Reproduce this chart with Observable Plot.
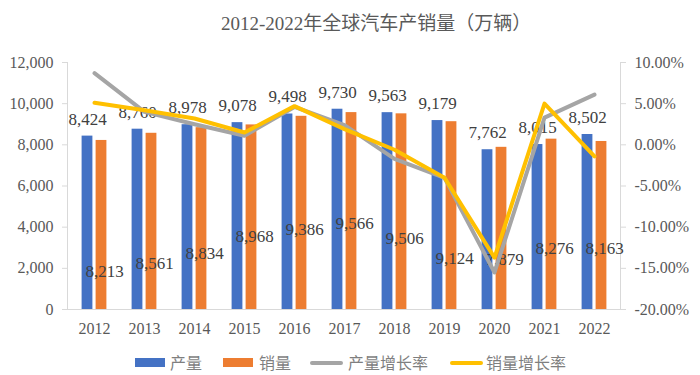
<!DOCTYPE html>
<html>
<head>
<meta charset="utf-8">
<script src="https://cdn.jsdelivr.net/npm/d3@7"></script>
<script src="https://cdn.jsdelivr.net/npm/@observablehq/plot@0.6"></script>
<style>
  html, body { margin: 0; padding: 0; background: #fff; }
  #wrap { position: relative; width: 700px; height: 375px; overflow: hidden; }
  #title { position: relative; height: 45px; }
  #title span { position: absolute; left: 221px; top: 0; line-height: 48px; font-size: 19px;
    font-family: "Liberation Serif", "Noto Sans CJK SC", serif; color: #595959; white-space: nowrap; }
  #chart svg { display: block; }
  #legend { position: absolute; left: 0; top: 348px; width: 700px; height: 27px;
    font-family: "Noto Sans CJK SC", sans-serif; font-size: 16px; color: #7f7f7f; }
  .sw { position: absolute; }
  .lt { position: absolute; top: 0; line-height: 28px; white-space: nowrap; }
</style>
</head>
<body>
<div id="wrap">
  <div id="title"><span>2012-2022年全球汽车产销量（万辆）</span></div>
  <div id="chart"></div>
  <div id="legend"></div>
</div>
<script>
// ---- data ----
const years = ["2012","2013","2014","2015","2016","2017","2018","2019","2020","2021","2022"];
const production = [8424, 8760, 8978, 9078, 9498, 9730, 9563, 9179, 7762, 8015, 8502];
const sales = [8213, 8561, 8834, 8968, 9386, 9566, 9506, 9124, 7879, 8276, 8163];
const productionGrowth = [8.7, 4.0, 2.5, 1.1, 4.6, 2.4, -1.7, -4.0, -15.5, 3.3, 6.1];
const salesGrowth = [5.1, 4.2, 3.2, 1.5, 4.7, 1.9, -0.6, -4.0, -13.7, 5.0, -1.4];
const salesLabelAt = [1860, 2235, 2705, 3545, 3870, 4165, 3435, 2465, 2415, 2980, 2980];
const leftTicks = [0, 2000, 4000, 6000, 8000, 10000, 12000];
const rightTicks = [-20, -15, -10, -5, 0, 5, 10];
const seriesNames = ["产量", "销量", "产量增长率", "销量增长率"];

const colors = {prod: "#4472C4", sales: "#ED7D31", prodG: "#A5A5A5", salesG: "#FFC000"};

// map percentage onto left axis domain (-20%..10% -> 0..12000)
const toLeft = p => (p + 20) / 30 * 12000;
const fromLeft = v => v / 12000 * 30 - 20;

const table = years.map((y, i) => ({
  year: y,
  prod: production[i],
  sales: sales[i],
  prodG: productionGrowth[i],
  salesG: salesGrowth[i],
  salesLabelAt: salesLabelAt[i]
}));

const fmt = d3.format(",");

const chart = Plot.plot({
  width: 700,
  height: 292,
  marginLeft: 67,
  marginRight: 80,
  marginTop: 17,
  marginBottom: 28,
  style: {fontFamily: "Liberation Serif, serif", fontSize: "16px", color: "#595959", background: "transparent"},
  x: {type: "band", domain: years, padding: 0, label: null},
  y: {domain: [0, 12000], label: null},
  marks: [
    Plot.frame({anchor: "left", stroke: "#d9d9d9"}),
    Plot.frame({anchor: "right", stroke: "#d9d9d9"}),
    Plot.ruleY([0], {stroke: "#d9d9d9"}),
    Plot.axisX({tickSize: 0, tickPadding: 13, fill: "#595959", fontSize: 16}),
    Plot.axisY(leftTicks, {anchor: "left", tickSize: 5, tickPadding: 9, stroke: "#d9d9d9", fill: "#595959",
      fontSize: 16, tickFormat: fmt}),
    Plot.axisY(rightTicks.map(toLeft), {anchor: "right", tickSize: 5, tickPadding: 9, stroke: "#d9d9d9", fill: "#595959",
      fontSize: 16, tickFormat: v => fromLeft(v).toFixed(2) + "%"}),
    Plot.barY(table, {x: "year", y: "prod", fill: colors.prod, insetLeft: 12.6, insetRight: 26.6}),
    Plot.barY(table, {x: "year", y: "sales", fill: colors.sales, insetLeft: 26.6, insetRight: 12.6}),
    Plot.text(table, {x: "year", y: "prod", text: d => fmt(d.prod), dx: -7, dy: -17, fill: "#404040", fontSize: 17}),
    Plot.text(table, {x: "year", y: "salesLabelAt", text: d => fmt(d.sales), dx: 10, fill: "#404040", fontSize: 17}),
    Plot.line(table, {x: "year", y: d => toLeft(d.prodG), stroke: colors.prodG, strokeWidth: 4,
      strokeLinejoin: "round", strokeLinecap: "round"}),
    Plot.line(table, {x: "year", y: d => toLeft(d.salesG), stroke: colors.salesG, strokeWidth: 4,
      strokeLinejoin: "round", strokeLinecap: "round"})
  ]
});
document.getElementById("chart").appendChild(chart);

// legend
const legend = document.getElementById("legend");
const items = [
  {name: seriesNames[0], color: colors.prod, kind: "rect", sx: 135, tx: 170},
  {name: seriesNames[1], color: colors.sales, kind: "rect", sx: 223, tx: 259},
  {name: seriesNames[2], color: colors.prodG, kind: "line", sx: 310, tx: 348},
  {name: seriesNames[3], color: colors.salesG, kind: "line", sx: 450, tx: 486}
];
items.forEach(it => {
  const s = document.createElement("div");
  s.className = "sw";
  s.style.left = it.sx + "px";
  s.style.width = (it.kind === "rect" ? 30 : 33) + "px";
  if (it.kind === "rect") { s.style.top = "10px"; s.style.height = "9px"; }
  else { s.style.top = "13px"; s.style.height = "4px"; s.style.borderRadius = "2px"; }
  s.style.background = it.color;
  legend.appendChild(s);
  const t = document.createElement("div");
  t.className = "lt";
  t.style.left = it.tx + "px";
  t.textContent = it.name;
  legend.appendChild(t);
});
</script>
</body>
</html>
